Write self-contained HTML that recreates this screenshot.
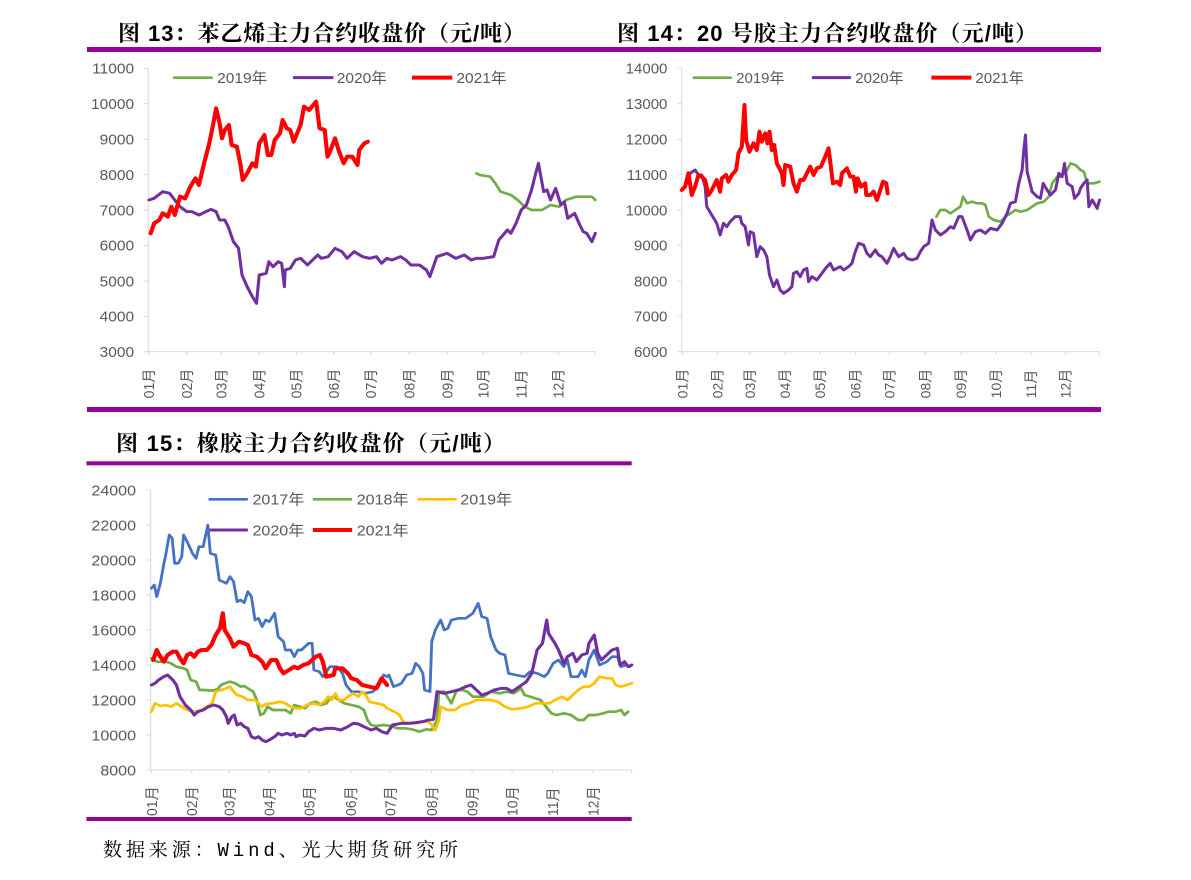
<!DOCTYPE html>
<html><head><meta charset="utf-8"><style>
html,body{margin:0;padding:0;background:#fff;}
svg{display:block;}
text{font-family:"Liberation Sans","Noto Sans CJK SC",sans-serif;}
.yl{font-size:45px;fill:#595959;text-anchor:end;}
.ml{font-size:42px;fill:#595959;}
.lg{font-size:45px;fill:#595959;}
.tt{font-size:22px;font-weight:bold;fill:#000;font-family:"Liberation Sans","Noto Serif CJK SC",serif;}
.ax{stroke:#d9d9d9;stroke-width:3;fill:none;}
.s{fill:none;stroke-linejoin:round;stroke-linecap:round;}
</style></head><body>
<svg width="1191" height="880" viewBox="0 0 1191 880" xmlns="http://www.w3.org/2000/svg">
<rect width="1191" height="880" fill="#fff"/>
<rect x="87" y="47" width="1014" height="5" fill="#990099"/>
<rect x="87" y="407" width="1014" height="5" fill="#990099"/>
<text class="tt" x="118" y="41" textLength="407" lengthAdjust="spacing">图 13：苯乙烯主力合约收盘价（元/吨）</text>
<text class="tt" x="617" y="41" textLength="420" lengthAdjust="spacing">图 14：20 号胶主力合约收盘价（元/吨）</text>
<text class="tt" x="116" y="451" textLength="389" lengthAdjust="spacing">图 15：橡胶主力合约收盘价（元/吨）</text>
<text x="103" y="856" textLength="355" lengthAdjust="spacing" style="font-size:19px;fill:#000;font-family:'Liberation Mono','Noto Serif CJK SC',serif;">数据来源：Wind、光大期货研究所</text>

<!-- Chart 1 -->
<g transform="translate(80,10) scale(0.3447,0.33333)">
<g>
<text class="yl" x="157" y="191">11000</text><text class="yl" x="157" y="297">10000</text>
<text class="yl" x="157" y="404">9000</text><text class="yl" x="157" y="510">8000</text>
<text class="yl" x="157" y="616">7000</text><text class="yl" x="157" y="722">6000</text>
<text class="yl" x="157" y="829">5000</text><text class="yl" x="157" y="935">4000</text>
<text class="yl" x="157" y="1041">3000</text>
</g>
<path class="ax" d="M198 175V1025M185 175H198M185 281H198M185 388H198M185 494H198M185 600H198M185 706H198M185 813H198M185 919H198M185 1025H1495"/>
<path class="ax" d="M200 1025v10M310 1025v10M410 1025v10M520 1025v10M628 1025v10M737 1025v10M843 1025v10M955 1025v10M1065 1025v10M1170 1025v10M1280 1025v10M1388 1025v10M1495 1025v10"/>
<g class="ml">
<text transform="translate(215,1165) rotate(-90)">01月</text><text transform="translate(325,1165) rotate(-90)">02月</text>
<text transform="translate(425,1165) rotate(-90)">03月</text><text transform="translate(535,1165) rotate(-90)">04月</text>
<text transform="translate(643,1165) rotate(-90)">05月</text><text transform="translate(752,1165) rotate(-90)">06月</text>
<text transform="translate(858,1165) rotate(-90)">07月</text><text transform="translate(970,1165) rotate(-90)">08月</text>
<text transform="translate(1080,1165) rotate(-90)">09月</text><text transform="translate(1185,1165) rotate(-90)">10月</text>
<text transform="translate(1295,1165) rotate(-90)">11月</text><text transform="translate(1403,1165) rotate(-90)">12月</text>
</g>
<path d="M270 203H385" stroke="#70ad47" stroke-width="8"/><text class="lg" x="398" y="219">2019年</text>
<path d="M618 203H735" stroke="#7030a0" stroke-width="9"/><text class="lg" x="745" y="219">2020年</text>
<path d="M963 203H1080" stroke="#ff0000" stroke-width="12"/><text class="lg" x="1092" y="219">2021年</text>
<polyline class="s" stroke="#70ad47" stroke-width="8" points="1150,490 1160,495 1190,500 1205,520 1220,545 1250,555 1270,570 1290,590 1310,600 1340,600 1365,585 1390,590 1410,570 1440,560 1465,560 1485,560 1495,570"/>
<polyline class="s" stroke="#7030a0" stroke-width="9" points="200,570 215,565 240,545 260,550 275,570 290,590 310,605 325,605 345,615 365,605 380,598 395,605 405,630 420,630 430,650 445,695 460,715 470,795 485,830 500,860 512,880 520,795 540,790 548,755 560,770 575,755 585,760 593,830 595,780 610,775 625,750 640,745 660,765 690,735 700,745 720,740 740,715 760,725 775,745 795,725 820,740 840,745 860,740 875,760 890,745 905,750 930,740 945,750 960,765 985,765 1005,780 1015,800 1025,770 1035,740 1065,730 1090,745 1115,735 1135,750 1150,745 1170,745 1200,740 1215,690 1240,660 1250,670 1265,640 1280,600 1295,585 1310,540 1322,490 1330,460 1345,545 1355,540 1365,570 1380,535 1395,585 1405,575 1415,625 1435,610 1450,645 1460,665 1470,670 1485,695 1495,670"/>
<polyline class="s" stroke="#ff0000" stroke-width="12" points="205,670 215,640 230,630 240,610 255,620 265,590 275,615 290,560 305,565 320,530 335,505 345,525 360,460 375,400 385,350 395,295 405,340 412,385 420,360 432,345 440,405 455,410 465,460 472,510 485,490 500,460 510,470 520,400 535,375 545,435 555,435 565,390 580,370 588,330 600,355 610,360 620,395 640,345 650,290 665,300 685,275 695,355 710,360 718,440 725,425 740,385 750,420 765,460 775,440 790,440 805,465 810,420 825,400 835,395"/>
</g>

<!-- Chart 2 -->
<g transform="translate(610,10) scale(0.3337,0.33333)">
<g>
<text class="yl" x="172" y="191">14000</text><text class="yl" x="172" y="297">13000</text>
<text class="yl" x="172" y="404">12000</text><text class="yl" x="172" y="510">11000</text>
<text class="yl" x="172" y="616">10000</text><text class="yl" x="172" y="722">9000</text>
<text class="yl" x="172" y="829">8000</text><text class="yl" x="172" y="935">7000</text>
<text class="yl" x="172" y="1041">6000</text>
</g>
<path class="ax" d="M215 175V1025M202 175H215M202 281H215M202 388H215M202 494H215M202 600H215M202 706H215M202 813H215M202 919H215M202 1025H1467"/>
<path class="ax" d="M217 1025v10M322 1025v10M420 1025v10M525 1025v10M630 1025v10M735 1025v10M838 1025v10M945 1025v10M1052 1025v10M1157 1025v10M1262 1025v10M1365 1025v10M1467 1025v10"/>
<g class="ml">
<text transform="translate(232,1165) rotate(-90)">01月</text><text transform="translate(337,1165) rotate(-90)">02月</text>
<text transform="translate(435,1165) rotate(-90)">03月</text><text transform="translate(540,1165) rotate(-90)">04月</text>
<text transform="translate(645,1165) rotate(-90)">05月</text><text transform="translate(750,1165) rotate(-90)">06月</text>
<text transform="translate(853,1165) rotate(-90)">07月</text><text transform="translate(960,1165) rotate(-90)">08月</text>
<text transform="translate(1067,1165) rotate(-90)">09月</text><text transform="translate(1172,1165) rotate(-90)">10月</text>
<text transform="translate(1277,1165) rotate(-90)">11月</text><text transform="translate(1380,1165) rotate(-90)">12月</text>
</g>
<path d="M248 203H365" stroke="#70ad47" stroke-width="8"/><text class="lg" x="378" y="219">2019年</text>
<path d="M605 203H722" stroke="#7030a0" stroke-width="9"/><text class="lg" x="735" y="219">2020年</text>
<path d="M963 203H1083" stroke="#ff0000" stroke-width="12"/><text class="lg" x="1095" y="219">2021年</text>
<polyline class="s" stroke="#70ad47" stroke-width="8" points="978,620 990,600 1005,600 1020,610 1035,600 1050,590 1058,560 1070,580 1085,575 1100,580 1115,580 1125,585 1135,620 1150,630 1170,635 1185,620 1200,610 1215,600 1230,605 1250,600 1265,590 1280,580 1300,575 1315,560 1325,520 1340,500 1350,500 1360,490 1370,480 1380,460 1395,465 1410,480 1420,485 1430,520 1450,520 1467,515"/>
<polyline class="s" stroke="#7030a0" stroke-width="9" points="215,540 230,520 240,490 255,480 265,495 275,495 285,530 290,590 305,615 320,640 330,675 340,640 350,650 360,635 375,620 390,620 395,640 405,650 415,705 420,665 430,670 440,740 450,710 460,720 470,740 478,795 490,830 500,810 510,840 520,850 535,840 545,830 550,790 560,785 570,800 580,780 590,775 595,815 605,800 620,810 635,790 650,770 660,760 670,780 690,770 700,780 715,770 725,760 735,725 745,700 760,705 770,730 780,740 795,720 805,735 815,740 830,760 840,740 850,715 865,740 880,730 890,745 905,750 920,745 930,725 940,710 955,700 965,630 975,660 990,675 1005,665 1020,650 1030,655 1045,620 1055,620 1070,660 1080,690 1095,665 1110,660 1125,670 1140,655 1160,660 1175,640 1190,610 1200,580 1215,575 1225,520 1235,480 1240,420 1245,375 1250,485 1265,545 1280,560 1290,565 1298,520 1310,540 1320,555 1335,540 1345,490 1355,500 1362,460 1370,520 1385,530 1392,565 1405,550 1410,535 1420,520 1430,510 1435,590 1445,570 1460,595 1467,570"/>
<polyline class="s" stroke="#ff0000" stroke-width="12" points="215,540 225,530 235,490 245,555 255,530 265,495 275,500 285,510 295,555 305,540 320,510 330,545 335,505 348,495 355,515 365,495 378,480 385,430 395,410 403,285 408,390 418,425 430,400 440,420 448,365 455,395 465,370 472,400 478,365 485,420 492,405 500,460 515,490 520,525 525,465 540,470 550,520 560,545 570,510 580,510 590,490 600,470 610,495 620,475 632,470 645,440 655,415 660,455 668,520 680,515 690,525 695,490 710,475 720,500 730,500 737,545 742,505 752,530 765,520 768,555 780,555 790,545 800,570 810,540 818,515 828,520 832,550"/>
</g>

<!-- Chart 3 -->
<g transform="translate(80,420) scale(0.3571,0.33333)">
<rect x="18" y="124" width="1527" height="12" fill="#990099"/>
<rect x="18" y="1191" width="1527" height="12" fill="#990099"/>
<g>
<text class="yl" x="157" y="226">24000</text><text class="yl" x="157" y="331">22000</text>
<text class="yl" x="157" y="436">20000</text><text class="yl" x="157" y="541">18000</text>
<text class="yl" x="157" y="646">16000</text><text class="yl" x="157" y="751">14000</text>
<text class="yl" x="157" y="856">12000</text><text class="yl" x="157" y="961">10000</text>
<text class="yl" x="157" y="1066">8000</text>
</g>
<path class="ax" d="M198 210V1050M185 210H198M185 315H198M185 420H198M185 525H198M185 630H198M185 735H198M185 840H198M185 945H198M185 1050H1545"/>
<path class="ax" d="M200 1050v10M313 1050v10M418 1050v10M530 1050v10M642 1050v10M758 1050v10M868 1050v10M985 1050v10M1098 1050v10M1210 1050v10M1323 1050v10M1437 1050v10M1545 1050v10"/>
<g class="ml">
<text transform="translate(215,1188) rotate(-90)">01月</text><text transform="translate(328,1188) rotate(-90)">02月</text>
<text transform="translate(433,1188) rotate(-90)">03月</text><text transform="translate(545,1188) rotate(-90)">04月</text>
<text transform="translate(657,1188) rotate(-90)">05月</text><text transform="translate(773,1188) rotate(-90)">06月</text>
<text transform="translate(883,1188) rotate(-90)">07月</text><text transform="translate(1000,1188) rotate(-90)">08月</text>
<text transform="translate(1113,1188) rotate(-90)">09月</text><text transform="translate(1225,1188) rotate(-90)">10月</text>
<text transform="translate(1338,1188) rotate(-90)">11月</text><text transform="translate(1452,1188) rotate(-90)">12月</text>
</g>
<path d="M360 238H470" stroke="#4472c4" stroke-width="8"/><text class="lg" x="483" y="254">2017年</text>
<path d="M652 238H762" stroke="#70ad47" stroke-width="8"/><text class="lg" x="775" y="254">2018年</text>
<path d="M945 238H1055" stroke="#ffc000" stroke-width="8"/><text class="lg" x="1065" y="254">2019年</text>
<path d="M360 330H470" stroke="#7030a0" stroke-width="9"/><text class="lg" x="483" y="346">2020年</text>
<path d="M652 330H762" stroke="#ff0000" stroke-width="12"/><text class="lg" x="775" y="346">2021年</text>
<polyline class="s" stroke="#4472c4" stroke-width="8" points="200,505 208,495 215,530 225,490 235,430 240,405 250,345 258,355 265,430 275,430 285,410 290,345 300,365 315,400 325,415 333,380 345,380 358,315 365,400 380,405 390,480 400,485 410,490 420,470 430,485 440,545 450,540 460,548 470,515 480,530 490,600 500,595 510,620 520,600 530,605 545,580 555,650 570,665 575,690 590,690 600,710 610,690 620,690 630,680 640,670 650,670 655,750 670,755 680,770 700,740 720,740 735,760 745,795 760,815 780,815 800,820 820,815 835,800 850,765 860,770 865,765 878,800 890,795 900,790 915,765 930,760 940,730 950,740 960,760 965,810 980,815 985,665 995,630 1010,600 1020,630 1030,625 1040,600 1060,595 1080,595 1100,580 1115,550 1125,590 1140,595 1150,650 1165,690 1175,700 1190,705 1200,760 1220,765 1245,770 1260,755 1280,760 1300,770 1310,760 1325,730 1340,720 1355,740 1365,720 1375,770 1395,770 1405,750 1415,770 1425,720 1440,690 1455,735 1475,725 1490,710 1505,710 1515,740 1530,735 1540,740"/>
<polyline class="s" stroke="#70ad47" stroke-width="8" points="200,715 215,725 240,725 255,730 270,740 290,745 300,750 310,780 325,785 335,810 350,810 370,812 385,808 395,795 405,790 420,785 435,790 450,800 460,798 470,805 485,815 495,840 505,885 515,880 525,860 540,870 560,870 575,870 590,880 600,855 615,860 630,865 645,850 660,845 675,855 690,850 700,835 710,830 725,840 740,850 760,855 780,860 795,870 805,900 815,915 830,918 850,915 870,918 890,925 910,925 930,928 950,935 970,928 985,930 1000,900 1005,815 1020,815 1040,850 1055,810 1070,810 1085,815 1100,830 1115,830 1130,830 1150,815 1175,820 1195,815 1215,820 1235,805 1245,825 1260,830 1275,835 1290,840 1305,860 1320,880 1335,885 1355,880 1375,885 1395,900 1410,900 1425,885 1445,885 1465,880 1480,875 1500,875 1515,870 1525,885 1535,875"/>
<polyline class="s" stroke="#ffc000" stroke-width="8" points="200,875 210,850 225,858 240,855 255,860 270,850 285,860 300,870 320,875 340,870 355,860 370,850 380,815 395,810 410,805 420,800 430,815 440,825 455,830 470,840 490,840 510,860 520,852 540,850 560,845 575,850 590,860 605,865 620,865 635,855 655,850 670,855 685,845 695,830 705,840 715,820 725,840 740,840 750,830 765,820 780,830 790,815 800,825 810,845 830,850 850,855 860,865 880,875 895,885 905,905 920,910 940,910 960,905 975,905 985,915 995,930 1005,900 1010,860 1030,870 1050,870 1070,855 1090,850 1110,840 1130,840 1150,840 1170,845 1190,860 1210,868 1235,865 1255,860 1275,850 1295,850 1315,850 1330,840 1350,830 1365,840 1385,820 1395,810 1410,800 1425,800 1440,790 1455,770 1475,775 1490,775 1500,795 1515,800 1530,795 1545,790"/>
<polyline class="s" stroke="#7030a0" stroke-width="9" points="200,795 210,790 220,780 235,770 245,765 260,780 270,795 280,830 295,855 310,870 320,885 330,875 345,870 360,860 375,855 390,860 400,870 410,890 415,910 425,890 432,885 440,915 450,910 460,920 470,925 480,950 490,955 500,950 510,960 520,965 530,960 545,950 555,940 565,945 580,940 590,945 600,940 605,950 615,945 630,948 640,935 655,925 670,930 690,925 710,925 730,930 750,920 765,910 780,912 795,920 805,925 815,930 830,925 845,935 860,940 875,915 900,910 920,910 940,908 960,905 975,900 990,898 1000,815 1020,820 1040,815 1060,810 1080,800 1095,795 1110,810 1125,825 1140,820 1160,810 1180,805 1195,805 1210,815 1230,800 1250,785 1265,760 1280,690 1295,670 1307,600 1312,640 1330,670 1340,690 1355,730 1365,710 1380,700 1390,725 1405,705 1420,700 1425,670 1440,645 1450,700 1460,720 1475,705 1490,690 1505,685 1512,735 1525,725 1535,740 1545,735"/>
<polyline class="s" stroke="#ff0000" stroke-width="12" points="205,720 215,690 222,705 235,725 245,705 260,695 270,695 280,715 290,730 300,705 310,700 320,710 330,695 340,690 355,690 368,675 380,645 392,625 400,580 405,630 420,655 430,680 445,665 460,670 470,675 480,705 495,710 510,725 520,745 535,720 550,720 560,745 570,760 585,750 600,740 610,745 625,735 640,730 660,710 672,705 680,725 690,770 710,765 715,745 735,745 750,760 760,775 775,780 790,795 810,800 830,805 845,775 860,795"/>
</g>
</svg>
</body></html>
